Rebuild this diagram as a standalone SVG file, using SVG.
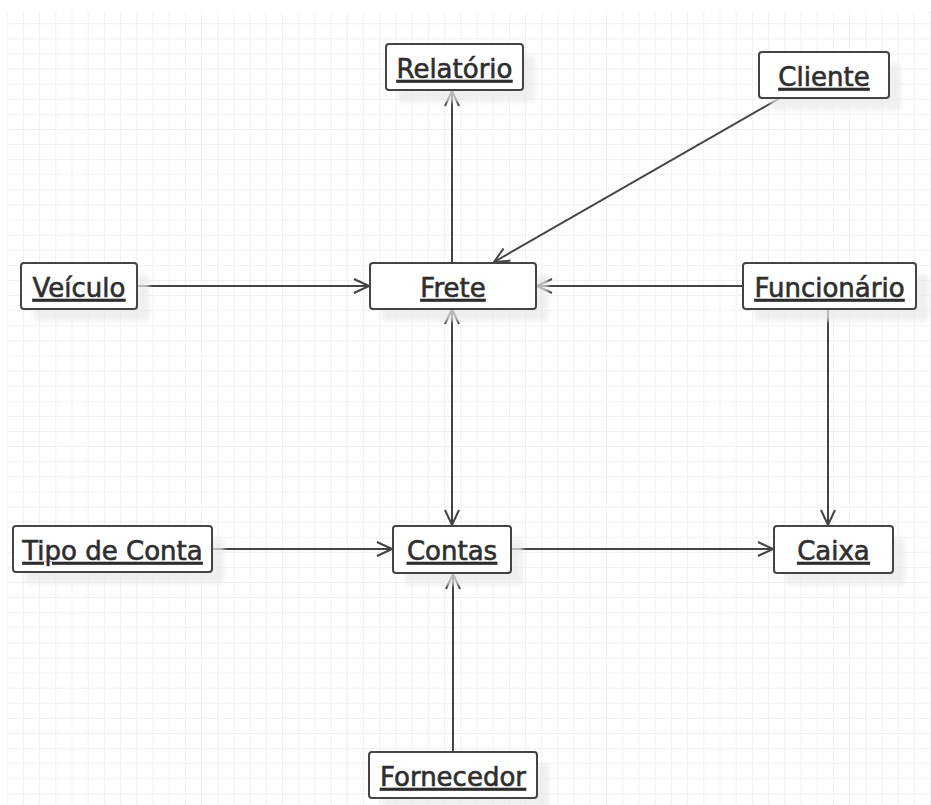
<svg xmlns="http://www.w3.org/2000/svg" width="931" height="805" viewBox="0 0 931 805">
  <style>
    .box { fill: #ffffff; stroke: #444444; stroke-width: 2; }
    .shadow { fill: #e9e9e9; opacity: 0.7; filter: url(#soft); }
    .label { font-family: "DejaVu Sans", Verdana, sans-serif; font-size: 26px; fill: #2e2e2e; stroke: #2e2e2e; stroke-width: 0.6; text-anchor: middle; text-decoration: underline; }
    .link { fill: none; stroke: #444444; stroke-width: 2; marker-end: url(#open); }
  </style>
  <defs>
    <pattern id="grid" patternUnits="userSpaceOnUse" x="6.7" y="8.2" width="16.2" height="15.1">
      <path d="M 0 0 V 15.1 M 0 0 H 16.2" fill="none" stroke="#f0f0f0" stroke-width="2"/>
    </pattern>
    <filter id="soft" x="-10%" y="-20%" width="120%" height="140%">
      <feGaussianBlur stdDeviation="2"/>
    </filter>
    <marker id="open" viewBox="-17 -10 19 20" refX="0" refY="0" markerWidth="19" markerHeight="20" markerUnits="userSpaceOnUse" orient="auto-start-reverse">
      <path d="M -15 -7 L 0 0 L -15 7" fill="none" stroke="#444444" stroke-width="2"/>
    </marker>
  </defs>

  <!-- canvas -->
  <rect width="931" height="805" fill="#ffffff"/>
  <rect x="7" y="11" width="924" height="794" fill="url(#grid)"/>

  <!-- connectors -->
  <g id="connectors">
    <line class="link" x1="452" y1="263" x2="452" y2="91"/>
    <line class="link" x1="780" y1="98" x2="494" y2="262"/>
    <line class="link" x1="137" y1="286" x2="369" y2="286"/>
    <line class="link" x1="743" y1="286" x2="537" y2="286"/>
    <line class="link" x1="828" y1="309" x2="828" y2="525"/>
    <line class="link" x1="452" y1="309" x2="452" y2="525" stroke-width="2.5" marker-start="url(#open)"/>
    <line class="link" x1="212" y1="549" x2="392" y2="549"/>
    <line class="link" x1="511" y1="549" x2="773" y2="549"/>
    <line class="link" x1="453" y1="752" x2="453" y2="574"/>
  </g>

  <!-- nodes -->
  <g id="relatorio">
    <rect class="shadow" x="398" y="56" width="137" height="46" rx="3"/>
    <rect class="box" x="386" y="44" width="137" height="46" rx="3"/>
    <text class="label" x="454.5" y="78">Relatório</text>
  </g>
  <g id="cliente">
    <rect class="shadow" x="771" y="64" width="130" height="46" rx="3"/>
    <rect class="box" x="759" y="52" width="130" height="46" rx="3"/>
    <text class="label" x="824" y="86">Cliente</text>
  </g>
  <g id="veiculo">
    <rect class="shadow" x="33" y="275" width="116" height="46" rx="3"/>
    <rect class="box" x="21" y="263" width="116" height="46" rx="3"/>
    <text class="label" x="79" y="297">Veículo</text>
  </g>
  <g id="frete">
    <rect class="shadow" x="382" y="275" width="166" height="46" rx="3"/>
    <rect class="box" x="370" y="263" width="166" height="46" rx="3"/>
    <text class="label" x="453" y="297">Frete</text>
  </g>
  <g id="funcionario">
    <rect class="shadow" x="755" y="275" width="173" height="46" rx="3"/>
    <rect class="box" x="743" y="263" width="173" height="46" rx="3"/>
    <text class="label" x="829.5" y="297">Funcionário</text>
  </g>
  <g id="tipo-de-conta">
    <rect class="shadow" x="25" y="538" width="199" height="46" rx="3"/>
    <rect class="box" x="13" y="526" width="199" height="46" rx="3"/>
    <text class="label" x="112.5" y="560">Tipo de Conta</text>
  </g>
  <g id="contas">
    <rect class="shadow" x="405" y="538" width="118" height="47" rx="3"/>
    <rect class="box" x="393" y="526" width="118" height="47" rx="3"/>
    <text class="label" x="452" y="560">Contas</text>
  </g>
  <g id="caixa">
    <rect class="shadow" x="786" y="538" width="119" height="47" rx="3"/>
    <rect class="box" x="774" y="526" width="119" height="47" rx="3"/>
    <text class="label" x="833.5" y="560">Caixa</text>
  </g>
  <g id="fornecedor">
    <rect class="shadow" x="381" y="764" width="168" height="46" rx="3"/>
    <rect class="box" x="369" y="752" width="168" height="46" rx="3"/>
    <text class="label" x="453" y="786">Fornecedor</text>
  </g>
</svg>
